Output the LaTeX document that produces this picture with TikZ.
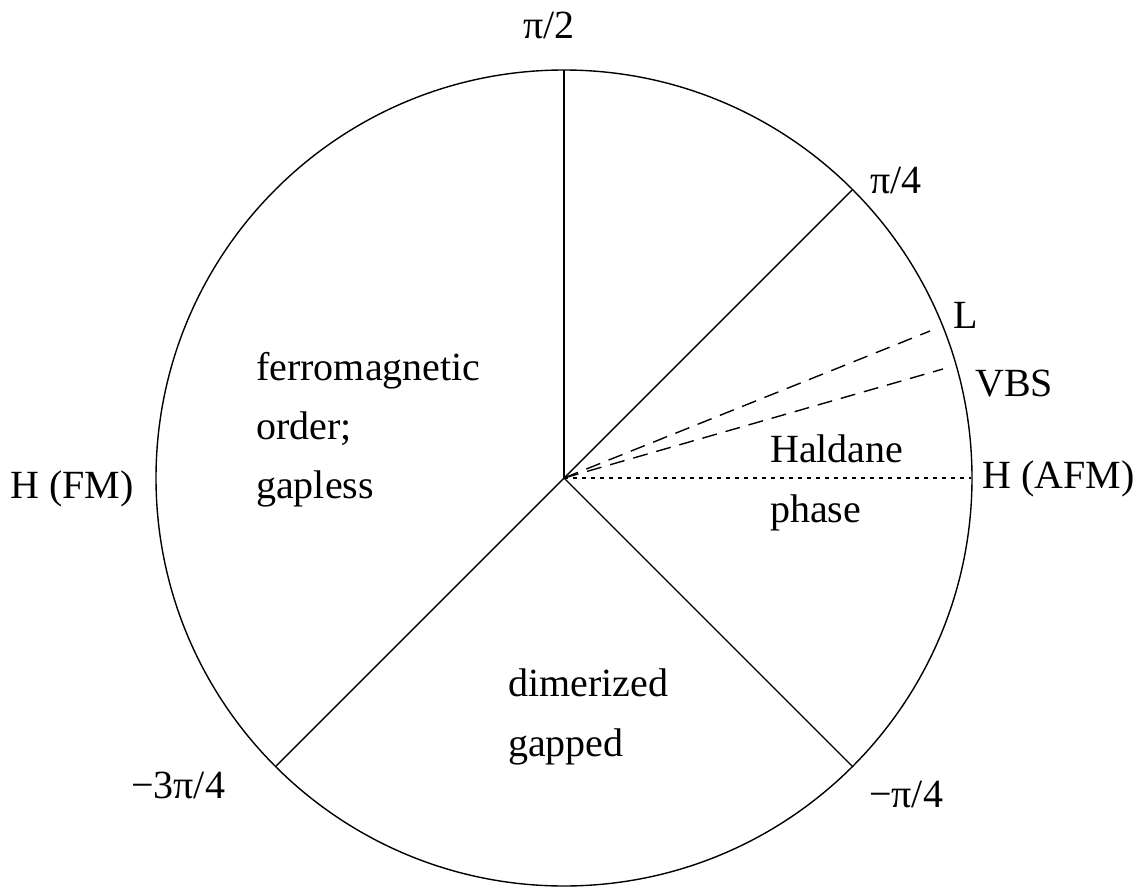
\documentclass[tikz,border=0pt]{standalone}
\usepackage{fontspec}
\setmainfont{Liberation Serif}
\begin{document}
\begin{tikzpicture}[x=1pt,y=-1pt,
  lbl/.style={font=\fontsize{40}{48}\selectfont, inner sep=0pt, anchor=base west},
  ln/.style={line width=1.4pt},
  dashln/.style={line width=1.4pt, dash pattern=on 15pt off 9pt},
  dotln/.style={line width=1.2pt, dash pattern=on 4pt off 5pt}]
\useasboundingbox (0,0) rectangle (1143,888);
\coordinate (O) at (564,478);
\coordinate (P90) at (564,70);
\coordinate (P45) at (852.5,189.5);
\coordinate (Pm45) at (852.5,766.5);
\coordinate (Pm135) at (275.5,766.5);
\coordinate (PL) at (930,331);
\coordinate (PV) at (943,369);
\coordinate (PH) at (971,478);
\draw[ln] (O) circle[radius=408pt];
\draw[ln] (O) -- (P90);
\draw[ln] (O) -- (P45);
\draw[ln] (O) -- (Pm45);
\draw[ln] (O) -- (Pm135);
\draw[dashln] (O) -- (PL);
\draw[dashln] (O) -- (PV);
\draw[dotln] (O) -- (PH);
\node[lbl] (t90) at (523,39) {π/2};
\node[lbl] (t45) at (870,193) {π/4};
\node[lbl] (tL) at (953,328) {L};
\node[lbl] (tV) at (975,396) {VBS};
\node[lbl] (tHA) at (982,488) {H (AFM)};
\node[lbl] (tHF) at (10,498) {H (FM)};
\node[lbl] (tm135) at (131,798) {−3π/4};
\node[lbl] (tm45) at (869,807) {−π/4};
\node[lbl] (f1) at (256,380) {ferromagnetic};
\node[lbl] (f2) at (256,439) {order;};
\node[lbl] (f3) at (256,498) {gapless};
\node[lbl] (d1) at (508,696) {dimerized};
\node[lbl] (d2) at (508,756) {gapped};
\node[lbl] (h1) at (770,462) {Haldane};
\node[lbl] (h2) at (770,522) {phase};
\end{tikzpicture}
\end{document}
